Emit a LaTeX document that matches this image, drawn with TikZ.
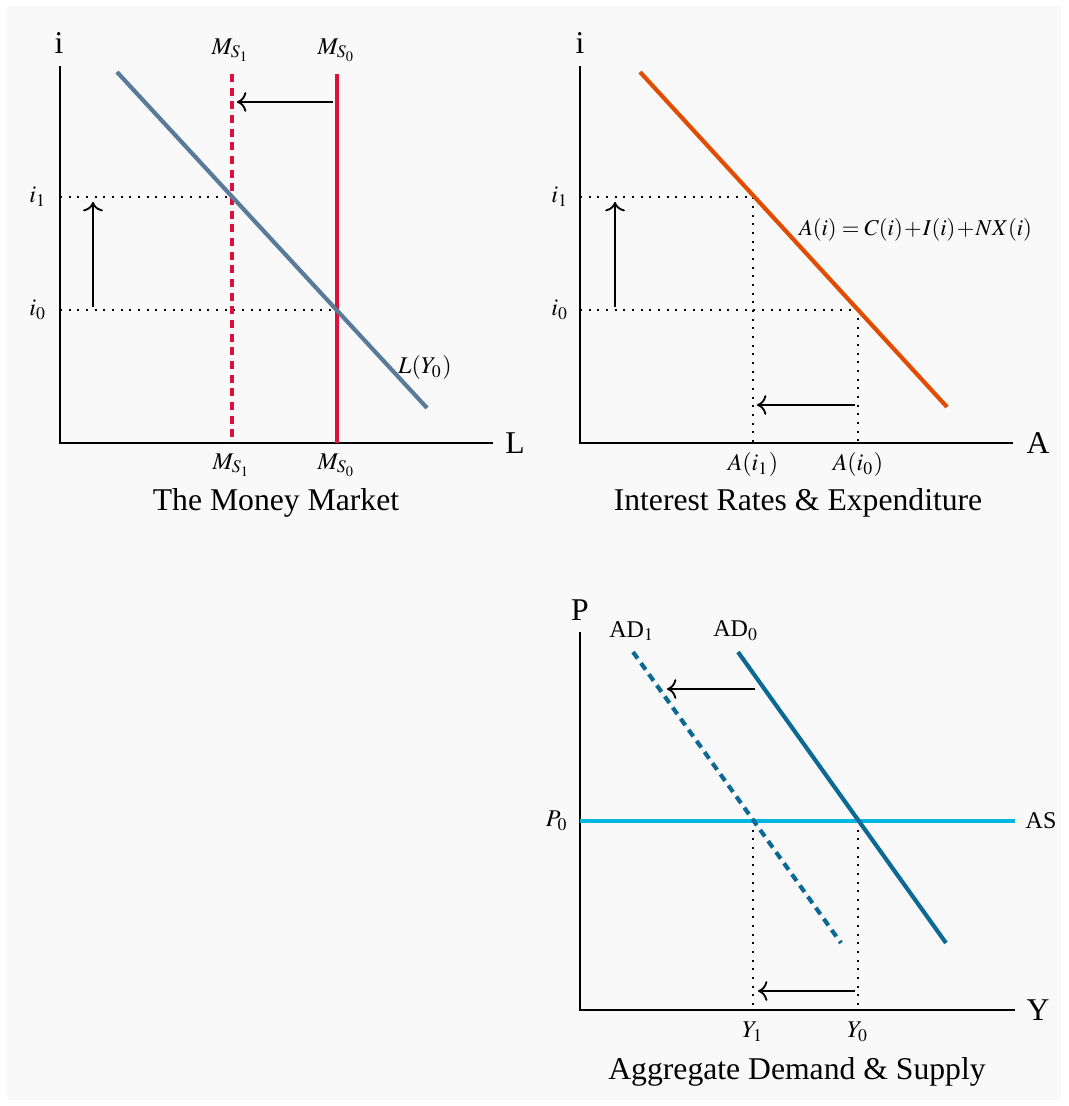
\documentclass[tikz,border=0pt]{standalone}
\usepackage{mathptmx}
\usepackage{fontspec}
\setmainfont{Liberation Serif}
\usepackage{tikz}
\usetikzlibrary{arrows.meta}
\definecolor{panelgray}{HTML}{F9F9F9}
\definecolor{slateblue}{HTML}{5A7A9A}
\definecolor{msred}{HTML}{E0103C}
\definecolor{exporange}{HTML}{E24C00}
\definecolor{adblue}{HTML}{0B6A94}
\definecolor{ascyan}{HTML}{00B6E0}

\begin{document}
\begin{tikzpicture}[x=0.3pt,y=-0.3pt,
    ax/.style={line width=0.8pt},
    curve/.style={line width=1.25pt},
    dashcurve/.style={curve,dash pattern=on 2.4pt off 1.7pt},
    guide/.style={dotted,line width=0.6pt},
    shiftarrow/.style={->,line width=0.55pt},
    lbl/.style={font=\fontsize{7.2}{8}\selectfont,inner sep=1pt},
    big/.style={font=\fontsize{9.5}{11}\selectfont,inner sep=1pt}]
  \useasboundingbox (0,0) rectangle (1068,1106);
  \fill[panelgray] (7,6) rectangle (1061,1100);

  % money market
  \draw[ax] (60,66) -- (60,443) -- (493,443);
  \node[big] (mmi) at (59,43) {i};
  \node[big] (mmL) at (515,443) {L};
  \draw[guide] (60,197) -- (232,197);
  \draw[guide] (60,310) -- (337,310);
  \draw[dashcurve,msred] (232,74) -- (232,443);
  \draw[curve,msred] (337,74) -- (337,443);
  \draw[curve,slateblue] (117,72) -- (427,408);
  \draw[shiftarrow] (333,102) -- (237,102);
  \draw[shiftarrow] (93,307) -- (93,202);
  \node[lbl] (mmione) at (38,197) {$i_1$};
  \node[lbl] (mmizero) at (38,310) {$i_0$};
  \node[lbl] (msonetop) at (231,50) {$M_{S_1}$};
  \node[lbl] (mszerotop) at (337,50) {$M_{S_0}$};
  \node[lbl] (msonebot) at (232,465) {$M_{S_1}$};
  \node[lbl] (mszerobot) at (337,465) {$M_{S_0}$};
  \node[lbl] (liq) at (425,368) {$L(Y_0)$};
  \node[big] (mmtitle) at (276,503) {The Money Market};

  % interest rates and expenditure
  \draw[ax] (580,66) -- (580,443) -- (1013,443);
  \node[big] (exi) at (580,43) {i};
  \node[big] (exA) at (1038,443) {A};
  \draw[guide] (580,197) -- (753,197) -- (753,443);
  \draw[guide] (580,310) -- (858,310) -- (858,443);
  \draw[curve,exporange] (640,72) -- (947,407);
  \draw[shiftarrow] (855,405) -- (757,405);
  \draw[shiftarrow] (615,307) -- (615,202);
  \node[lbl] (exione) at (560,197) {$i_1$};
  \node[lbl] (exizero) at (560,310) {$i_0$};
  \node[lbl] (aone) at (753,465) {$A(i_1)$};
  \node[lbl] (azero) at (858,465) {$A(i_0)$};
  \node[lbl,font=\fontsize{6.8}{8}\selectfont,anchor=west] (aeq) at (795,230)
    {$\medmuskip=1mu\thickmuskip=4mu A(i)=C(i)+I(i)+NX(i)$};
  \node[big] (extitle) at (798,503) {Interest Rates \& Expenditure};

  % aggregate demand and supply
  \draw[ax] (580,632) -- (580,1010) -- (1015,1010);
  \node[big] (adP) at (580,610) {P};
  \node[big] (adY) at (1038,1010) {Y};
  \draw[guide] (753,821) -- (753,1010);
  \draw[guide] (858,821) -- (858,1010);
  \draw[curve,ascyan] (580,821) -- (1015,821);
  \draw[dashcurve,adblue] (633,652) -- (841,943);
  \draw[curve,adblue] (738,652) -- (946,943);
  \draw[shiftarrow] (755,689) -- (667,689);
  \draw[shiftarrow] (855,991) -- (758,991);
  \node[lbl] (pzero) at (557,821) {$P_0$};
  \node[lbl] (aslbl) at (1041,821) {AS};
  \node[lbl] (adone) at (632,631) {AD$_1$};
  \node[lbl] (adzero) at (736,631) {AD$_0$};
  \node[lbl] (yone) at (753,1032) {$Y_1$};
  \node[lbl] (yzero) at (858,1032) {$Y_0$};
  \node[big] (adtitle) at (797,1072) {Aggregate Demand \& Supply};
\end{tikzpicture}
\end{document}
